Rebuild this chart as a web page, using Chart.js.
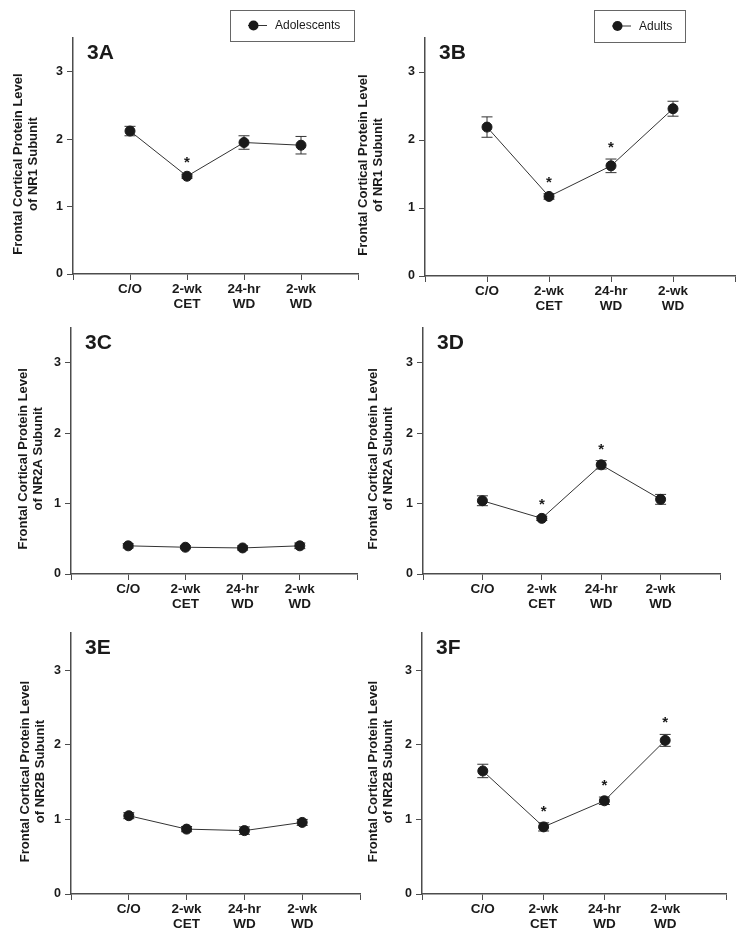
<!DOCTYPE html>
<html>
<head>
<meta charset="utf-8">
<script src="https://cdn.jsdelivr.net/npm/chart.js@4.4.1/dist/chart.umd.min.js"></script>
<style>
  html, body { margin: 0; padding: 0; background: #fff; }
  body { width: 747px; height: 952px; position: relative; overflow: hidden; }
  canvas { position: absolute; }
</style>
</head>
<body>
<canvas id="c3A"></canvas>
<canvas id="c3B"></canvas>
<canvas id="c3C"></canvas>
<canvas id="c3D"></canvas>
<canvas id="c3E"></canvas>
<canvas id="c3F"></canvas>
<script>
// categories / ticks
const categories = [['C/O'], ['2-wk', 'CET'], ['24-hr', 'WD'], ['2-wk', 'WD']];
const xTicks = [-1, 0, 1, 2, 3, 4];
const yTicks = [0, 1, 2, 3];

// NR1 subunit
const nr1Adol = [2.12, 1.45, 1.95, 1.91];
const nr1AdolErr = [0.07, 0.03, 0.10, 0.13];
const nr1AdolSig = [false, true, false, false];
const nr1Adult = [2.19, 1.17, 1.62, 2.46];
const nr1AdultErr = [0.15, 0.04, 0.10, 0.11];
const nr1AdultSig = [false, true, true, false];

// NR2A subunit
const nr2aAdol = [0.40, 0.38, 0.37, 0.40];
const nr2aAdolErr = [0.03, 0.02, 0.03, 0.04];
const nr2aAdolSig = [false, false, false, false];
const nr2aAdult = [1.04, 0.79, 1.55, 1.06];
const nr2aAdultErr = [0.07, 0.03, 0.06, 0.07];
const nr2aAdultSig = [false, true, true, false];

// NR2B subunit
const nr2bAdol = [1.05, 0.87, 0.85, 0.96];
const nr2bAdolErr = [0.04, 0.035, 0.05, 0.04];
const nr2bAdolSig = [false, false, false, false];
const nr2bAdult = [1.65, 0.90, 1.25, 2.06];
const nr2bAdultErr = [0.09, 0.055, 0.05, 0.08];
const nr2bAdultSig = [false, true, true, true];

const FONT = '"Liberation Sans", Arial, Helvetica, sans-serif';
const INK = '#1a1a1a';
const AXIS = '#4d4d4d';

// page layout of each panel (canvas box + wanted plot area, page px)
const panels = [
  { id: '3A', subunit: 'NR1', values: nr1Adol, errors: nr1AdolErr, sig: nr1AdolSig, legend: 'Adolescents',
    box: { x: 0, y: 0, w: 372, h: 318 }, area: { left: 73, right: 358, top: 38, bottom: 274 },
    titleX: 18, legendBox: { x: 230, y: 10, w: 124, h: 31 } },
  { id: '3B', subunit: 'NR1', values: nr1Adult, errors: nr1AdultErr, sig: nr1AdultSig, legend: 'Adults',
    box: { x: 350, y: 0, w: 397, h: 318 }, area: { left: 425, right: 735, top: 38, bottom: 276 },
    titleX: 363, legendBox: { x: 594, y: 10, w: 91, h: 32 } },
  { id: '3C', subunit: 'NR2A', values: nr2aAdol, errors: nr2aAdolErr, sig: nr2aAdolSig,
    box: { x: 0, y: 316, w: 372, h: 304 }, area: { left: 71, right: 357, top: 326, bottom: 574 },
    titleX: 23 },
  { id: '3D', subunit: 'NR2A', values: nr2aAdult, errors: nr2aAdultErr, sig: nr2aAdultSig,
    box: { x: 350, y: 316, w: 397, h: 304 }, area: { left: 423, right: 720, top: 327, bottom: 574 },
    titleX: 373 },
  { id: '3E', subunit: 'NR2B', values: nr2bAdol, errors: nr2bAdolErr, sig: nr2bAdolSig,
    box: { x: 0, y: 620, w: 372, h: 332 }, area: { left: 71, right: 360, top: 633, bottom: 894 },
    titleX: 25 },
  { id: '3F', subunit: 'NR2B', values: nr2bAdult, errors: nr2bAdultErr, sig: nr2bAdultSig,
    box: { x: 350, y: 620, w: 397, h: 332 }, area: { left: 422, right: 726, top: 633, bottom: 894 },
    titleX: 373 }
];
const panelById = {};
panels.forEach(p => { panelById['c' + p.id] = p; });

const X_AXIS_H = 40;

// error bars, significance stars, panel label, y title and legend box
const decorPlugin = {
  id: 'decor',
  beforeDatasetsDraw(chart) {
    const p = panelById[chart.canvas.id];
    const ctx = chart.ctx, xs = chart.scales.x, ys = chart.scales.y;
    ctx.save();
    ctx.strokeStyle = '#333';
    ctx.lineWidth = 1;
    p.values.forEach((v, i) => {
      const x = xs.getPixelForValue(i);
      const top = ys.getPixelForValue(v + p.errors[i]);
      const bot = ys.getPixelForValue(v - p.errors[i]);
      ctx.beginPath();
      ctx.moveTo(x, top); ctx.lineTo(x, bot);
      ctx.moveTo(x - 5.5, top); ctx.lineTo(x + 5.5, top);
      ctx.moveTo(x - 5.5, bot); ctx.lineTo(x + 5.5, bot);
      ctx.stroke();
    });
    ctx.restore();
  },
  afterDraw(chart) {
    const p = panelById[chart.canvas.id];
    const ctx = chart.ctx, xs = chart.scales.x, ys = chart.scales.y;
    const ca = chart.chartArea;
    ctx.save();
    ctx.fillStyle = INK;

    // stars
    ctx.font = 'bold 15px ' + FONT;
    ctx.textAlign = 'center';
    ctx.textBaseline = 'alphabetic';
    p.values.forEach((v, i) => {
      if (!p.sig[i]) return;
      const x = xs.getPixelForValue(i);
      const top = ys.getPixelForValue(v + p.errors[i]);
      ctx.fillText('*', x, top - 16 + 9);
    });

    // panel label
    ctx.font = 'bold 21px ' + FONT;
    ctx.textAlign = 'left';
    ctx.fillText(p.id, ca.left + 14, ca.top + 21);

    // y axis title (two lines)
    ctx.font = 'bold 13px ' + FONT;
    ctx.textAlign = 'center';
    ctx.textBaseline = 'middle';
    ctx.translate(p.titleX - p.box.x, (ca.top + ca.bottom) / 2 + 8);
    ctx.rotate(-Math.PI / 2);
    ctx.fillText('Frontal Cortical Protein Level', 0, 0);
    ctx.fillText('of ' + p.subunit + ' Subunit', 0, 15);
    ctx.restore();

    // legend box
    if (p.legend) {
      const lb = p.legendBox;
      const bx = lb.x - p.box.x, by = lb.y - p.box.y;
      const cy = by + lb.h / 2;
      ctx.save();
      ctx.strokeStyle = '#666';
      ctx.lineWidth = 1;
      ctx.strokeRect(bx + 0.5, by + 0.5, lb.w, lb.h);
      ctx.strokeStyle = '#333';
      ctx.beginPath();
      ctx.moveTo(bx + 18, cy); ctx.lineTo(bx + 37, cy);
      ctx.stroke();
      ctx.fillStyle = INK;
      ctx.beginPath();
      ctx.arc(bx + 23.5, cy, 5, 0, Math.PI * 2);
      ctx.fill();
      ctx.font = '12px ' + FONT;
      ctx.textAlign = 'left';
      ctx.textBaseline = 'middle';
      ctx.fillText(p.legend, bx + 45, cy + 0.5);
      ctx.restore();
    }
  }
};

function initPanel(p) {
  const canvas = document.getElementById('c' + p.id);
  canvas.width = p.box.w;
  canvas.height = p.box.h;
  canvas.style.left = p.box.x + 'px';
  canvas.style.top = p.box.y + 'px';
  canvas.style.width = p.box.w + 'px';
  canvas.style.height = p.box.h + 'px';

  const yAxisW = p.area.left - p.box.x;
  const pad = {
    left: 0,
    top: p.area.top - p.box.y,
    right: p.box.x + p.box.w - p.area.right,
    bottom: p.box.y + p.box.h - p.area.bottom - X_AXIS_H
  };

  return new Chart(canvas.getContext('2d'), {
    type: 'line',
    data: {
      datasets: [{
        data: p.values.map((v, i) => ({ x: i, y: v })),
        borderColor: '#333',
        borderWidth: 1,
        pointRadius: 5,
        pointBackgroundColor: INK,
        pointBorderColor: INK,
        pointBorderWidth: 1,
        tension: 0
      }]
    },
    options: {
      responsive: false,
      animation: false,
      events: [],
      layout: { padding: pad },
      plugins: {
        legend: { display: false },
        tooltip: { enabled: false }
      },
      scales: {
        x: {
          type: 'linear',
          min: -1,
          max: 4,
          afterBuildTicks: s => { s.ticks = xTicks.map(v => ({ value: v })); },
          afterFit: s => { s.height = X_AXIS_H; },
          ticks: {
            autoSkip: false,
            maxRotation: 0,
            padding: 2,
            color: INK,
            font: { family: FONT, size: 13.5, weight: 'bold', lineHeight: 1.12 },
            callback: v => categories[v] || ''
          },
          grid: { drawOnChartArea: false, drawTicks: true, tickLength: 6, color: AXIS, lineWidth: 1 },
          border: { display: true, color: AXIS, width: 1.5 }
        },
        y: {
          min: 0,
          max: 3.5,
          afterBuildTicks: s => { s.ticks = yTicks.map(v => ({ value: v })); },
          afterFit: s => { s.width = yAxisW; },
          ticks: {
            padding: 4,
            color: INK,
            font: { family: FONT, size: 12.5, weight: 'bold' },
            callback: v => String(v)
          },
          grid: { drawOnChartArea: false, drawTicks: true, tickLength: 6, color: AXIS, lineWidth: 1 },
          border: { display: true, color: AXIS, width: 1.5 }
        }
      }
    },
    plugins: [decorPlugin]
  });
}

panels.forEach(initPanel);
</script>
</body>
</html>
